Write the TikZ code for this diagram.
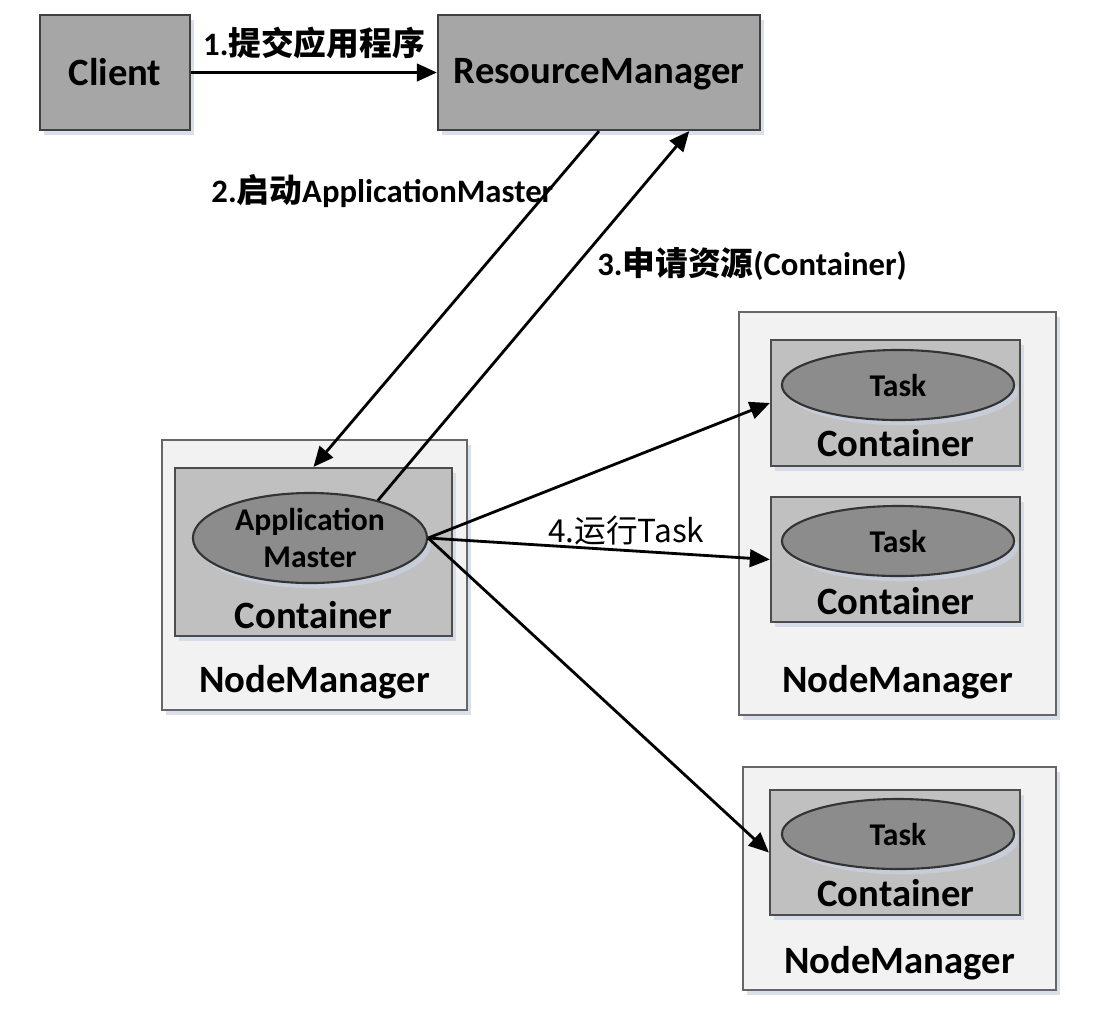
\documentclass[tikz,border=0pt]{standalone}
\usepackage{fontspec}
\setmainfont{Carlito}
\newfontfamily\cjk{Noto Sans CJK SC}
\usetikzlibrary{arrows.meta,shapes.geometric,shadows}

\definecolor{mastergray}{HTML}{A6A6A6}
\definecolor{hostgray}{HTML}{F2F2F2}
\definecolor{contgray}{HTML}{C0C0C0}
\definecolor{taskgray}{HTML}{8C8C8C}
\definecolor{shade}{HTML}{C9D3E3}

\tikzset{
    shade/.style={drop shadow={shadow xshift=1.2pt,shadow yshift=-1.5pt,fill=shade,opacity=0.7}},
    master/.style={draw=black!75,fill=mastergray,line width=0.6pt,shade},
    host/.style={draw=black!60,fill=hostgray,line width=0.6pt,shade},
    cont/.style={draw=black!70,fill=contgray,line width=0.6pt,shade},
    task/.style={ellipse,draw=black!80,fill=taskgray,line width=0.6pt,inner sep=0pt,
        font=\fontsize{9}{10.5}\selectfont\bfseries,align=center,shade},
    flow/.style={-{Triangle[length=5.7pt,width=5pt]},line width=0.8pt},
    step label/.style={font=\fontsize{9.3}{11}\selectfont\bfseries}
}

\begin{document}
\begin{tikzpicture}[x=0.01cm,y=-0.01cm,
        every node/.style={font=\fontsize{11}{13}\selectfont\bfseries}]
        \useasboundingbox (0,0) rectangle (1100,1014);

        \node[master,minimum width=1.50cm,minimum height=1.15cm] (client) at (115,72.5) {Client};
        \node[master,minimum width=3.22cm,minimum height=1.15cm,text height=8pt] (rm) at (599,72.5) {ResourceManager};

        \node[host,minimum width=3.05cm,minimum height=2.70cm] (nm1) at (314.5,575) {};
        \node[cont,minimum width=2.77cm,minimum height=1.68cm] (c1) at (313.5,552) {};
        \node[task,minimum width=2.34cm,minimum height=0.90cm] (am) at (310,538) {Application\\Master};
        \node (c1txt) at (313.5,615) {Container};
        \node (nm1txt) at (314.5,682) {NodeManager};

        \node[host,minimum width=3.17cm,minimum height=4.03cm] (nm2) at (897.5,513.5) {};
        \node[cont,minimum width=2.49cm,minimum height=1.26cm] (c2) at (895.5,403) {};
        \node[task,minimum width=2.32cm,minimum height=0.70cm] (t2) at (898,385) {Task};
        \node (c2txt) at (896,443) {Container};
        \node[cont,minimum width=2.49cm,minimum height=1.25cm] (c3) at (895.5,559.5) {};
        \node[task,minimum width=2.32cm,minimum height=0.70cm] (t3) at (898,541) {Task};
        \node (c3txt) at (896,601) {Container};
        \node (nm2txt) at (897.5,682) {NodeManager};

        \node[host,minimum width=3.13cm,minimum height=2.23cm] (nm3) at (899.5,878.5) {};
        \node[cont,minimum width=2.50cm,minimum height=1.25cm] (c4) at (895,852.5) {};
        \node[task,minimum width=2.32cm,minimum height=0.70cm] (t4) at (898,834) {Task};
        \node (c4txt) at (896,893) {Container};
        \node (nm3txt) at (899.5,963) {NodeManager};

        \draw[flow] (client) -- node[step label,above=0pt] {1.{\cjk 提交应用程序}} (rm);
        \draw[flow] (rm.south) -- node[step label,pos=0.18,anchor=east,inner sep=0pt,xshift=2pt] {2.{\cjk 启动}ApplicationMaster} (c1.north);
        \draw[flow] (am.29) -- node[step label,pos=0.64,anchor=west,xshift=2pt] {3.{\cjk 申请资源}(Container)} (rm.-33);
        \draw[flow] (am.east) -- (c2.west);
        \draw[flow] (am.east) -- node[pos=0.58,above,inner sep=1pt,font=\fontsize{9}{11}\selectfont\cjk] {4.运行Task} (c3.west);
        \draw[flow] (am.east) -- (c4.west);
    \end{tikzpicture}
\end{document}
